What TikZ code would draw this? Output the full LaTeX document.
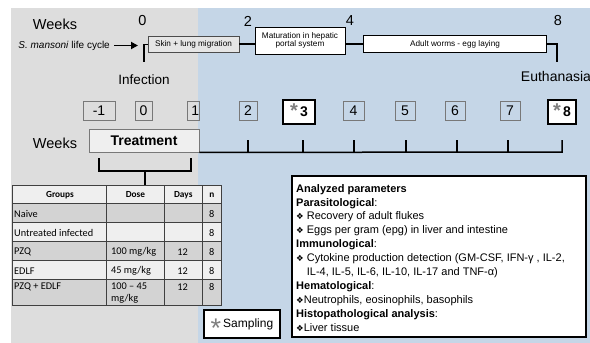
\documentclass[tikz,border=0pt]{standalone}
\usepackage{fontspec}
\setmainfont{Liberation Sans}
\newfontfamily\tabfont{Carlito}
\newfontfamily\symfont{DejaVu Sans}
\usetikzlibrary{arrows.meta}
\definecolor{graybg}{RGB}{221,221,221}
\definecolor{bluebg}{RGB}{197,214,231}
\definecolor{boxgray}{RGB}{120,120,120}
\definecolor{rowdark}{RGB}{211,211,211}
\definecolor{rowlight}{RGB}{239,239,239}
\definecolor{astgray}{RGB}{128,128,128}
\definecolor{skinfill}{RGB}{230,230,230}
\newcommand\fsz[1]{\fontsize{#1}{#1}\selectfont}
\newcommand\pdia{{\symfont\fontsize{8.5}{8.5}\selectfont ❖}}
\newcommand\bigast{\raisebox{-0.5pt}[0pt][0pt]{\color{astgray}\fsz{20}*}}
\begin{document}
\begin{tikzpicture}[x=1pt,y=-1pt,
  lbl/.style={inner sep=0pt},
  stagebox/.style={draw=black, line width=0.9pt, fill=white, inner sep=0pt, font=\fsz{8.2}},
  skinbox/.style={draw=black!70, line width=0.9pt, fill=skinfill, inner sep=0pt, font=\fsz{8.2}},
  wbox/.style={draw=boxgray, line width=0.7pt, inner sep=0pt, minimum height=19pt, font=\fsz{14}},
  sbox/.style={draw=black, line width=1.2pt, fill=white, inner sep=0pt, minimum height=24pt, font=\bfseries\fsz{14}},
  conn/.style={line width=1.8pt},
  brk/.style={line width=1.5pt},
  tabline/.style={draw=black!75, line width=0.7pt},
  thead/.style={inner sep=0pt, font=\tabfont\bfseries\fsz{9.3}},
  tcell/.style={inner sep=0pt, font=\tabfont\fsz{10.3}},
]
\useasboundingbox (0,0) rectangle (590,343);
\fill[graybg] (11,8) rectangle (198,343);
\fill[bluebg] (198,8) rectangle (590,343);

% top timeline
\node[lbl, font=\fsz{14.5}] (wktop) at (55,24) {Weeks};
\node[lbl, font=\fsz{14.5}] (t0) at (142.5,21) {0};
\node[lbl, font=\fsz{14.5}] (t2) at (248,21) {2};
\node[lbl, font=\fsz{14.5}] (t4) at (350,21) {4};
\node[lbl, font=\fsz{14.5}] (t8) at (558,21) {8};

\node[lbl, anchor=east, font=\fsz{10}] (lc) at (110,45.5) {\textit{S. mansoni} life cycle};
\coordinate (arrend) at (138,45.5);
\draw[conn, -{Triangle[length=7pt,width=7pt]}] ([xshift=4pt]lc.east) -- (arrend);

\node[skinbox, minimum width=91pt, minimum height=15.5pt] (skin) at (193.5,44.3) {Skin + lung migration};
\node[stagebox, minimum width=90pt, minimum height=26.7pt, align=center] (mat) at (300,40.7) {Maturation in hepatic\\portal system};
\node[stagebox, minimum width=183.4pt, minimum height=16.6pt] (adult) at (455,44) {Adult worms - egg laying};

\coordinate (infbot) at (144,62);
\coordinate (euthbot) at (557,62);
\draw[brk] (skin.west) -| (infbot);
\draw[conn] (skin.east) -- (skin.east -| mat.west);
\draw[conn] (adult.west -| mat.east) -- (adult.west);
\draw[brk] (adult.east) -| (euthbot);

\node[lbl, font=\fsz{13.5}] (inf) at (144,79.5) {Infection};
\node[lbl, font=\fsz{14}] (euth) at (556,76) {Euthanasia};

% week boxes
\node[wbox, minimum width=32pt] (wm1) at (99,111) {-1};
\node[wbox, minimum width=17pt] (w0) at (143.5,111) {0};
\node[wbox, minimum width=12pt] (w1) at (193,111) {\hspace*{4.5pt}1};
\node[wbox, minimum width=18pt] (w2) at (248,111) {2};
\node[sbox, minimum width=32pt] (w3) at (299,112) {\bigast\,3};
\node[wbox, minimum width=21pt] (w4) at (353.5,111) {4};
\node[wbox, minimum width=20pt] (w5) at (405,111) {5};
\node[wbox, minimum width=20pt] (w6) at (455,111) {6};
\node[wbox, minimum width=20pt] (w7) at (510,111) {7};
\node[sbox, minimum width=28pt] (w8) at (562,112) {\bigast\,8};

\node[lbl, font=\fsz{14.5}] (wkmid) at (55,143) {Weeks};
\node[draw=boxgray, line width=0.9pt, fill=rowlight, inner sep=0pt, minimum width=110pt, minimum height=23pt, font=\bfseries\fsz{14}] (treat) at (144,140.5) {Treatment};

% lower timeline
\coordinate (tlend) at (562,152);
\coordinate (tk2) at (248,140);
\coordinate (tk3) at (303,140);
\coordinate (tk4) at (354,140);
\coordinate (tk5) at (406,140);
\coordinate (tk6) at (457,140);
\coordinate (tk7) at (508,140);
\coordinate (tk8) at (562,140);
\draw[brk] (treat.south east) -- (tlend) -- (tk8);
\foreach \t in {tk2,tk3,tk4,tk5,tk6,tk7} \draw[brk] (\t) -- (\t |- tlend);

% treatment bracket
\coordinate (bl) at (99,158);
\coordinate (br) at (191,158);
\coordinate (bmid) at (145,171);
\coordinate (btab) at (145,185.7);
\draw[brk] (bl) |- (bmid) -| (br);
\draw[brk] (bmid) -- (btab);

% table
\fill[rowlight] (12,185.7) rectangle (221,203.3);
\fill[rowdark] (12,203.3) rectangle (221,222.7);
\fill[rowlight] (12,222.7) rectangle (221,241.7);
\fill[rowdark] (12,241.7) rectangle (221,260.7);
\fill[rowlight] (12,260.7) rectangle (221,279.3);
\fill[rowdark] (12,279.3) rectangle (221,305);
\draw[tabline] (12,185.7) rectangle (221,305);
\foreach \yy in {203.3,222.7,241.7,260.7,279.3} \draw[tabline] (12,\yy) -- (221,\yy);
\foreach \xx in {106,164.3,202.7} \draw[tabline] (\xx,185.7) -- (\xx,305);

\node[thead] (hg) at (60,195) {Groups};
\node[thead] (hd) at (135.5,195) {Dose};
\node[thead] (hdy) at (183.3,195) {Days};
\node[thead] (hn) at (211.8,195) {n};

\node[tcell, anchor=west] (g1) at (14,214) {Naive};
\node[tcell] (n1) at (211.8,214) {8};
\node[tcell, anchor=west] (g2) at (14,232.7) {Untreated infected};
\node[tcell] (n2) at (211.8,232.7) {8};
\node[tcell, anchor=west] (g3) at (14,252) {PZQ};
\node[tcell, anchor=west] (d3) at (111,252) {100 mg/kg};
\node[tcell] (dy3) at (182.7,252) {12};
\node[tcell] (n3) at (211.8,252) {8};
\node[tcell, anchor=west] (g4) at (14,271) {EDLF};
\node[tcell, anchor=west] (d4) at (111,271) {45 mg/kg};
\node[tcell] (dy4) at (182.7,271) {12};
\node[tcell] (n4) at (211.8,271) {8};
\node[tcell, anchor=west] (g5) at (14,286.7) {PZQ + EDLF};
\node[tcell, anchor=north west, align=left, font=\tabfont\fontsize{10.3}{11.8}\selectfont] (d5) at (111,282.5) {100 – 45\\mg/kg};
\node[tcell] (dy5) at (182.7,286.7) {12};
\node[tcell] (n5) at (211.8,286.7) {8};

% sampling
\node[draw=black, line width=1.2pt, fill=white, inner sep=0pt, minimum width=76pt, minimum height=28pt, font=\fsz{12}] (samp) at (242,324) {\raisebox{-10.5pt}[0pt][0pt]{\color{astgray}\fsz{27}*}\,Sampling};

% parameters
\node[draw=black, line width=1.2pt, fill=white, inner sep=0pt, minimum width=294pt, minimum height=161pt] (pbox) at (439,256.5) {};
\node[anchor=north west, inner sep=0pt, align=left, font=\fontsize{11}{13.9}\selectfont] (ptext) at (296,184) {%
\textbf{Analyzed parameters}\\
\textbf{Parasitological}:\\
\pdia\ Recovery of adult flukes\\
\pdia\ Eggs per gram (epg) in liver and intestine\\
\textbf{Immunological}:\\
\pdia\ Cytokine production detection (GM-CSF, IFN-γ , IL-2,\\
\phantom{\pdia\ }IL-4, IL-5, IL-6, IL-10, IL-17 and TNF-α)\\
\textbf{Hematological}:\\
\pdia Neutrophils, eosinophils, basophils\\
\textbf{Histopathological analysis}:\\
\pdia Liver tissue};
\end{tikzpicture}
\end{document}
